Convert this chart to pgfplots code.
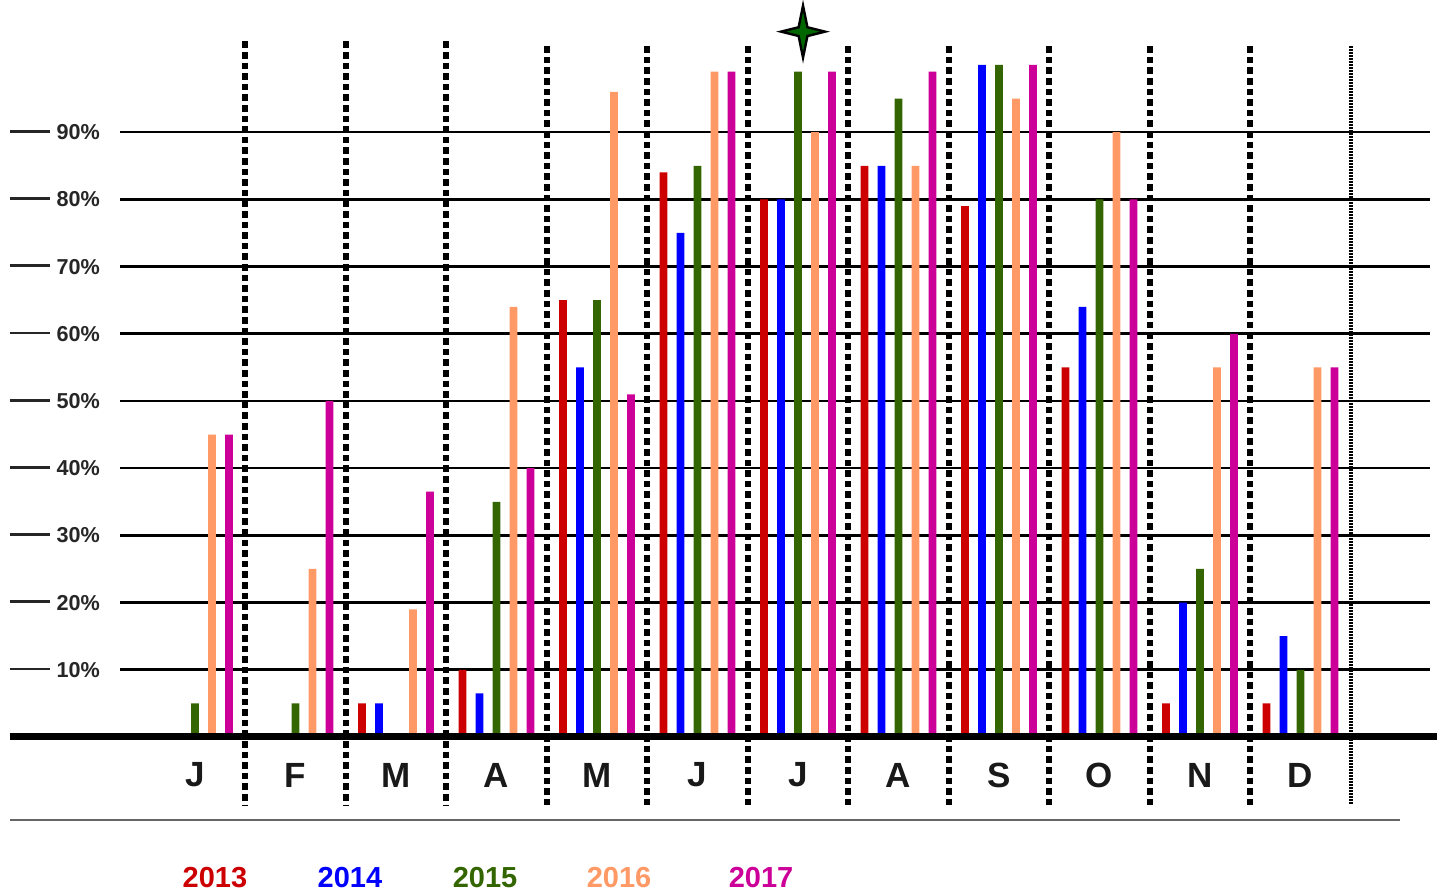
\documentclass[border=0pt]{standalone}
\usepackage{fontspec}
\setmainfont{Liberation Sans}
\usepackage{pgfplots}
\usepackage{pgfplotstable}
\pgfplotsset{compat=1.18}
\definecolor{c13}{HTML}{CC0000}
\definecolor{c14}{HTML}{0000FF}
\definecolor{c15}{HTML}{336600}
\definecolor{c16}{HTML}{FF9966}
\definecolor{c17}{HTML}{CC0099}
\definecolor{stargreen}{HTML}{006600}
\pgfdeclareplotmark{fourstar}{%
  \pgfpathmoveto{\pgfqpoint{0pt}{13pt}}%
  \pgfpathlineto{\pgfqpoint{2.2pt}{2.2pt}}%
  \pgfpathlineto{\pgfqpoint{11pt}{0pt}}%
  \pgfpathlineto{\pgfqpoint{2.2pt}{-2.2pt}}%
  \pgfpathlineto{\pgfqpoint{0pt}{-13pt}}%
  \pgfpathlineto{\pgfqpoint{-2.2pt}{-2.2pt}}%
  \pgfpathlineto{\pgfqpoint{-11pt}{0pt}}%
  \pgfpathlineto{\pgfqpoint{-2.2pt}{2.2pt}}%
  \pgfpathclose
  \pgfusepathqfillstroke}
\pgfplotstableread{
x y
3 5
4 10
5 65
6 84
7 80
8 85
9 79
10 55
11 5
12 5
}\tabA
\pgfplotstableread{
x y
3 5
4 6.5
5 55
6 75
7 80
8 85
9 100
10 64
11 20
12 15
}\tabB
\pgfplotstableread{
x y
1 5
2 5
4 35
5 65
6 85
7 99
8 95
9 100
10 80
11 25
12 10
}\tabC
\pgfplotstableread{
x y
1 45
2 25
3 19
4 64
5 96
6 99
7 90
8 85
9 95
10 90
11 55
12 55
}\tabD
\pgfplotstableread{
x y
1 45
2 50
3 36.5
4 40
5 51
6 99
7 99
8 99
9 100
10 80
11 60
12 55
}\tabE
\begin{document}
\begin{tikzpicture}
\begin{axis}[
  scale only axis, width=655pt, height=336pt,
  xmin=0.2537, xmax=13.289, ymin=0, ymax=100,
  clip=false,
  axis line style={draw=none},
  major tick length=0pt,
  /pgf/number format/assume math mode=true,
  xtick={1,...,12},
  xticklabels={J,F,M,A,M,J,J,A,S,O,N,D},
  xticklabel style={anchor=center, yshift=-19pt, font=\fontsize{17.5}{18}\selectfont\bfseries, text=black!90},
  ytick={10,20,...,90},
  yticklabel={\rule[3.4pt]{20pt}{1.4pt}\hspace{3.5pt}\pgfmathprintnumber{\tick}\%},
  yticklabel style={font=\fontsize{10.8}{12}\selectfont\bfseries, text=black!85, xshift=-6.5pt},
  ymajorgrids, grid style={black, line width=1.3pt},
  every axis plot/.append style={ybar, bar width=3.8pt, draw=none},
]
\addplot[fill=c13, bar shift=-17pt] table[x=x,y=y]{\tabA};
\addplot[fill=c14, bar shift=-8.5pt] table[x=x,y=y]{\tabB};
\addplot[fill=c15, bar shift=0pt] table[x=x,y=y]{\tabC};
\addplot[fill=c16, bar shift=8.5pt] table[x=x,y=y]{\tabD};
\addplot[fill=c17, bar shift=17pt] table[x=x,y=y]{\tabE};
% baseline
\draw[black, line width=3.5pt] (axis cs:-0.842,0) -- (axis cs:13.36,0);
% month separators
\pgfplotsinvokeforeach{1.5,2.5,3.5}{
  \draw[black, line width=3.2pt, dash pattern=on 3.3pt off 2pt] (axis cs:#1,103.5) -- (axis cs:#1,-10.1);
}
\pgfplotsinvokeforeach{4.5,5.5,6.5,7.5,8.5,9.5,10.5,11.5}{
  \draw[black, line width=3.2pt, dash pattern=on 3.3pt off 2pt] (axis cs:#1,102.8) -- (axis cs:#1,-10.1);
}
\draw[black, line width=1.8pt, dash pattern=on 0.9pt off 0.6pt] (axis cs:12.5,102.8) -- (axis cs:12.5,-10.1);
% bottom rule
\draw[black!60, line width=0.7pt] (axis cs:-0.84,-12.35) -- (axis cs:12.99,-12.35);
% star marker
\addplot[only marks, mark=fourstar, mark options={fill=stargreen, draw=black, line width=1.2pt}] coordinates {(7.05,104.96)};
% legend as coloured text
\node[text=c13, font=\fontsize{14.5}{15}\selectfont\bfseries] at (axis cs:1.199,-20.98) {2013};
\node[text=c14, font=\fontsize{14.5}{15}\selectfont\bfseries] at (axis cs:2.542,-20.98) {2014};
\node[text=c15, font=\fontsize{14.5}{15}\selectfont\bfseries] at (axis cs:3.886,-20.98) {2015};
\node[text=c16, font=\fontsize{14.5}{15}\selectfont\bfseries] at (axis cs:5.219,-20.98) {2016};
\node[text=c17, font=\fontsize{14.5}{15}\selectfont\bfseries] at (axis cs:6.632,-20.98) {2017};
% bounding box
\path (axis cs:-0.9403,109.67) rectangle (axis cs:13.5373,-23.51);
\end{axis}
\end{tikzpicture}
\end{document}
